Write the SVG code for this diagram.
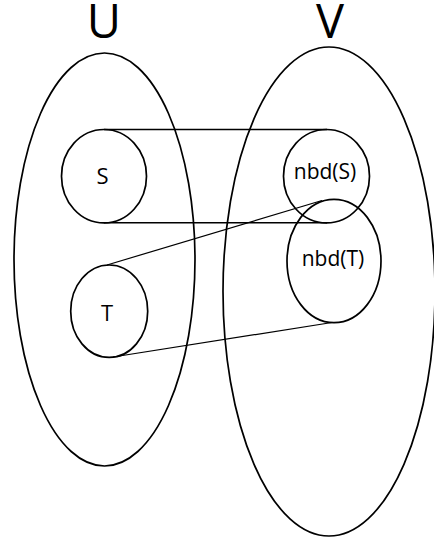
<svg xmlns="http://www.w3.org/2000/svg" width="434" height="541" viewBox="0 0 434 541">
<style>
.sh{fill:none;stroke:#000;stroke-width:1.7}
.ln{fill:none;stroke:#000;stroke-width:1.6}
.thin{fill:none;stroke:#000;stroke-width:1.2}
.lbl{font-family:"Open Sans","DejaVu Sans",sans-serif;font-size:21px;fill:#000;text-anchor:middle}
.big{font-family:"Open Sans","DejaVu Sans",sans-serif;font-size:47px;fill:#000;text-anchor:middle}
</style>
<rect width="434" height="541" fill="#fff"/>
<g id="U">
<ellipse class="sh" cx="104.5" cy="259.5" rx="90.5" ry="206.5"/>
<text class="big" x="104" y="37.5">U</text>
</g>
<g id="V">
<ellipse class="sh" cx="329" cy="291.5" rx="106" ry="244.5"/>
<text class="big" x="330" y="37.5">V</text>
</g>
<g id="connectors">
<line class="ln" x1="104" y1="129.5" x2="327" y2="129.5"/>
<line class="ln" x1="104" y1="222.8" x2="327" y2="222.8"/>
<line class="thin" x1="107" y1="265" x2="322" y2="200.5"/>
<line class="thin" x1="113" y1="357" x2="332" y2="322.5"/>
</g>
<g id="S">
<ellipse class="sh" cx="104" cy="176.2" rx="42.5" ry="46.7"/>
<text class="lbl" x="102.5" y="184" style="font-size:22px">S</text>
</g>
<g id="nbdS">
<ellipse class="sh" cx="326.5" cy="176.2" rx="43" ry="46.7"/>
<text class="lbl" x="325" y="179">nbd(S)</text>
</g>
<g id="nbdT">
<ellipse class="sh" cx="334" cy="261" rx="47" ry="61.7"/>
<text class="lbl" x="333" y="266">nbd(T)</text>
</g>
<g id="T">
<ellipse class="sh" cx="109.2" cy="311.2" rx="38.5" ry="46.2"/>
<text class="lbl" x="107" y="321" style="font-size:22px">T</text>
</g>
</svg>
